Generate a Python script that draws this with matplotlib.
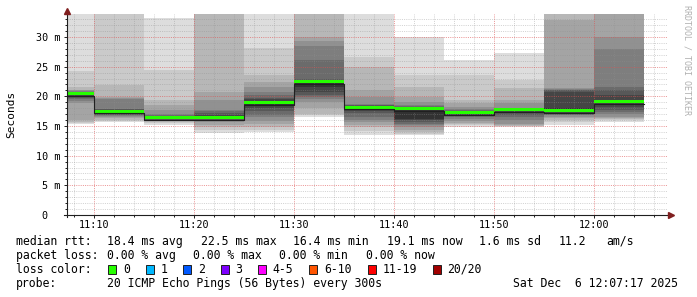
import matplotlib
matplotlib.use("Agg")
import matplotlib.pyplot as plt
import numpy as np
from matplotlib.patches import Rectangle

# 5 minute smokeping bins (end time of each bin)
bin_end = ["11:10", "11:15", "11:20", "11:25", "11:30", "11:35",
           "11:40", "11:45", "11:50", "11:55", "12:00", "12:05"]

# sorted rtt of the 20 pings per bin, ms (34.5 = off the top of the graph)
pings = [
    [15.4, 15.5, 15.7, 16.0, 18.8, 19.2, 19.5, 19.7, 19.9, 20.2, 20.5, 20.6, 20.7, 20.8, 20.9, 21.0, 21.1, 21.6, 24.2, 34.5],
    [15.6, 15.8, 16.0, 16.3, 16.5, 16.7, 16.8, 16.9, 17.0, 17.3, 17.6, 17.7, 17.8, 17.9, 19.6, 19.7, 19.9, 21.9, 34.5, 34.5],
    [15.2, 15.5, 15.7, 15.8, 15.9, 15.95, 16.0, 16.05, 16.1, 16.3, 16.5, 16.6, 16.7, 16.8, 17.0, 17.7, 18.5, 19.3, 24.4, 33.2],
    [13.9, 14.3, 14.8, 15.2, 15.6, 15.8, 15.9, 16.0, 16.1, 16.3, 16.6, 16.8, 17.2, 17.5, 17.7, 19.4, 20.8, 34.5, 34.5, 34.5],
    [14.0, 14.4, 14.9, 15.4, 15.8, 16.5, 16.85, 17.5, 18.0, 18.6, 19.2, 19.5, 19.8, 20.2, 20.8, 21.5, 22.5, 23.6, 28.1, 34.5],
    [16.6, 16.9, 17.1, 18.0, 19.1, 19.5, 19.9, 20.2, 20.8, 21.5, 22.6, 22.8, 23.0, 26.2, 28.5, 29.4, 30.05, 34.5, 34.5, 34.5],
    [13.5, 14.2, 14.8, 15.2, 15.6, 16.0, 16.5, 17.2, 17.6, 17.9, 18.3, 18.4, 18.5, 18.6, 18.7, 19.9, 21.1, 25.0, 26.7, 34.5],
    [13.4, 13.7, 14.0, 14.4, 14.9, 15.2, 15.4, 15.6, 16.0, 16.2, 18.0, 18.1, 18.2, 18.3, 18.6, 19.05, 19.9, 21.5, 23.6, 30.05],
    [14.9, 15.1, 15.3, 15.45, 15.8, 16.2, 16.5, 16.7, 16.85, 17.0, 17.4, 17.5, 17.6, 17.7, 17.8, 18.2, 18.8, 19.4, 23.6, 26.1],
    [14.9, 14.95, 15.0, 15.1, 15.4, 16.0, 16.5, 16.9, 17.2, 17.5, 17.9, 17.95, 18.0, 18.05, 18.1, 18.85, 19.4, 21.35, 22.75, 27.25],
    [15.2, 15.6, 16.0, 16.3, 16.6, 16.8, 16.9, 17.0, 17.1, 17.4, 18.0, 20.8, 21.0, 21.1, 21.2, 21.35, 32.9, 34.5, 34.5, 34.5],
    [15.7, 16.0, 16.2, 16.4, 16.6, 17.0, 17.4, 17.7, 18.2, 18.8, 19.3, 20.2, 21.0, 21.6, 27.9, 30.05, 34.5, 34.5, 34.5, 34.5],
]
median = [20.45, 17.5, 16.4, 16.45, 18.9, 22.5, 18.2, 17.9, 17.2, 17.8, 17.6, 19.1]

x_ticks = ["11:10", "11:20", "11:30", "11:40", "11:50", "12:00"]
y_ticks = [0, 5, 10, 15, 20, 25, 30]
y_labels = ["0  ", "5 m", "10 m", "15 m", "20 m", "25 m", "30 m"]

stats_rtt = ["median rtt:", "18.4 ms avg", "22.5 ms max", "16.4 ms min", "19.1 ms now", "1.6 ms sd", "11.2", "am/s"]
stats_rtt_x = [16, 107.3, 200.7, 293.3, 386.7, 479.3, 558.3, 606.7]
stats_loss = ["packet loss:", "0.00 % avg", "0.00 % max", "0.00 % min", "0.00 % now"]
stats_loss_x = [16, 107.3, 193.3, 279.3, 365.7]
loss_labels = ["0", "1", "2", "3", "4-5", "6-10", "11-19", "20/20"]
loss_colors = ["#26ff00", "#00b8ff", "#0059ff", "#7e00ff", "#ff00ff", "#ff5500", "#ff0000", "#a10000"]
probe = "20 ICMP Echo Pings (56 Bytes) every 300s"
stamp = "Sat Dec  6 12:07:17 2025"

plt.rcParams['font.family'] = 'DejaVu Sans Mono'

def mins(s):
    p = s.split(':')
    v = (int(p[0]) - 11) * 60 + int(p[1])
    if len(p) > 2:
        v += int(p[2]) / 60
    return v

W, H = 697, 297
fig = plt.figure(figsize=(W / 100, H / 100), dpi=100)
fig.patch.set_facecolor('white')
top_px = 13.9
ax = fig.add_axes([67 / W, (H - 215) / H, 600 / W, (215 - top_px) / H])
ax.set_xlim(mins("11:07:17"), mins("12:07:17"))
ax.set_ylim(0, (215 - top_px) / 5.933)

edges = np.array([mins(b) - 5 for b in bin_end] + [mins(bin_end[-1])])
P = np.array(pings)
for i in range(10):
    g = int(190 / 10 * (10 - (i + 1))) + 50
    col = '#%02x%02x%02x' % (g, g, g)
    lo = np.append(P[:, i], P[-1, i])
    hi = np.append(P[:, 19 - i], P[-1, 19 - i])
    ax.fill_between(edges, lo, hi, step='post', color=col, lw=0, zorder=1, antialiased=False)

# grid, dotted like rrdtool
gkw = dict(lw=0.72, ls=(0, (1, 1.2)), zorder=2, snap=True)
for m in range(8, 67, 2):
    if m % 10 == 0:
        ax.axvline(m, color='#de5050', alpha=0.6, **gkw)
    else:
        ax.axvline(m, color='#8f8f8f', alpha=0.4, **gkw)
for v in range(1, 34):
    if v % 5 == 0:
        ax.axhline(v, color='#de5050', alpha=0.6, **gkw)
    else:
        ax.axhline(v, color='#8f8f8f', alpha=0.4, **gkw)

med = np.append(median, median[-1])
ax.fill_between(edges, med - 0.25, med + 0.25, step='post', color='#26ff00', lw=0, zorder=4)
ax.step(edges, med - 0.38, where='post', color='#202020', lw=0.8, zorder=5)

for s in ax.spines.values():
    s.set_visible(False)
ax.set_xticks([mins(t) for t in x_ticks])
ax.set_xticklabels(x_ticks)
ax.set_xticks(range(8, 67, 2), minor=True)
ax.set_yticks(y_ticks)
ax.set_yticklabels(y_labels)
ax.set_yticks(range(1, 34), minor=True)
ax.tick_params(which='major', length=2.2, width=0.7, color='#1f1f1f', labelsize=7.3, pad=1.5)
ax.tick_params(which='minor', length=1.5, width=0.7, color='#1f1f1f')
ax.tick_params(axis='y', which='major', pad=2.5)

ah = 215 - top_px
ax.plot([-3 / 600, 605 / 600], [0, 0], transform=ax.transAxes, color='#1f1f1f', lw=0.8, clip_on=False, zorder=6)
ax.plot([0, 0], [-2 / ah, 1 + 2 / ah], transform=ax.transAxes, color='#1f1f1f', lw=0.8, clip_on=False, zorder=6)
ax.plot([1 + 4 / 600], [0], marker='>', ms=4, color='#801f1f', transform=ax.transAxes, clip_on=False, zorder=7)
ax.plot([0], [1 + 3 / ah], marker='^', ms=4, color='#801f1f', transform=ax.transAxes, clip_on=False, zorder=7)

fig.text(11 / W, 1 - 114 / H, "Seconds", rotation=90, ha='center', va='center', fontsize=8)
fig.text(687.5 / W, 1 - 60 / H, "RRDTOOL / TOBI OETIKER", rotation=270, ha='center', va='center',
         fontsize=6, color='#b0b0b0')

def put(x, y, s):
    fig.text(x / W, 1 - y / H, s, ha='left', va='center', fontsize=8.3, color='black')

for s, x in zip(stats_rtt, stats_rtt_x):
    put(x, 241.3, s)
for s, x in zip(stats_loss, stats_loss_x):
    put(x, 255.5, s)
put(16, 269.3, "loss color:")
bx = 108.3
for lab, c in zip(loss_labels, loss_colors):
    fig.add_artist(Rectangle((bx / W, 1 - 273.7 / H), 8 / W, 9 / H, transform=fig.transFigure,
                             facecolor=c, edgecolor='#202020', lw=0.7))
    put(bx + 14.5, 269.3, lab)
    bx = bx + 14.5 + len(lab) * 6.95 + 16
put(16, 283.5, "probe:")
put(107.3, 283.5, probe)
put(513.3, 283.5, stamp)

fig.savefig("out.png", dpi=100, facecolor='white')
